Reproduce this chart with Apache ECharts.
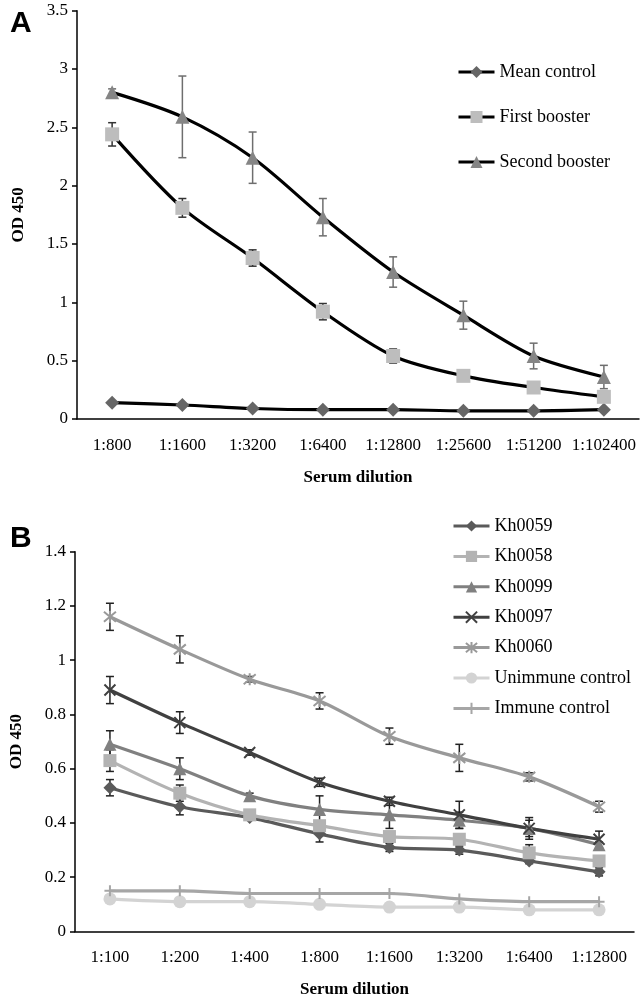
<!DOCTYPE html>
<html>
<head>
<meta charset="utf-8">
<style>
  html, body { margin: 0; padding: 0; background: #fff; }
  #chart { width: 642px; height: 1004px; }
</style>
<script src="https://cdn.jsdelivr.net/npm/echarts@6/dist/echarts.min.js"></script>
</head>
<body>
<div id="chart"></div>
<script>
// Panel A: dilutions and OD 450 values
const dilutionsA = ['1:800', '1:1600', '1:3200', '1:6400', '1:12800', '1:25600', '1:51200', '1:102400']
const meanControl = [0.14, 0.12, 0.09, 0.08, 0.08, 0.07, 0.07, 0.08]
const firstBooster = [2.44, 1.81, 1.38, 0.92, 0.54, 0.37, 0.27, 0.19]
const firstBoosterErr = [0.10, 0.08, 0.07, 0.07, 0.06, 0.02, 0.02, 0.01]
const secondBooster = [2.80, 2.59, 2.24, 1.73, 1.26, 0.89, 0.54, 0.36]
const secondBoosterErr = [0.03, 0.35, 0.22, 0.16, 0.13, 0.12, 0.11, 0.10]

// Panel B
const dilutionsB = ['1:100', '1:200', '1:400', '1:800', '1:1600', '1:3200', '1:6400', '1:12800']
const kh0059 = [0.53, 0.46, 0.42, 0.36, 0.31, 0.30, 0.26, 0.22]
const kh0059Err = [0.03, 0.03, 0.01, 0.03, 0.015, 0.015, 0.01, 0.015]
const kh0058 = [0.63, 0.51, 0.43, 0.39, 0.35, 0.34, 0.29, 0.26]
const kh0058Err = [0.04, 0.03, 0.01, 0.01, 0.01, 0.01, 0.03, 0.01]
const kh0099 = [0.69, 0.60, 0.50, 0.45, 0.43, 0.41, 0.38, 0.32]
const kh0099Err = [0.05, 0.04, 0.01, 0.05, 0.05, 0.03, 0.03, 0.01]
const kh0097 = [0.89, 0.77, 0.66, 0.55, 0.48, 0.43, 0.38, 0.34]
const kh0097Err = [0.05, 0.04, 0.01, 0.015, 0.015, 0.05, 0.04, 0.03]
const kh0060 = [1.16, 1.04, 0.93, 0.85, 0.72, 0.64, 0.57, 0.46]
const kh0060Err = [0.05, 0.05, 0.01, 0.03, 0.03, 0.05, 0.015, 0.02]
const unimmune = [0.12, 0.11, 0.11, 0.10, 0.09, 0.09, 0.08, 0.08]
const immune = [0.15, 0.15, 0.14, 0.14, 0.14, 0.12, 0.11, 0.11]

const serif = 'Liberation Serif'
const crossPath = 'path://M0,0L10,10M10,0L0,10'
const starPath = 'path://M0,0L10,10M10,0L0,10M5,-1L5,11'
const plusPath = 'path://M5,0L5,10M0,5L10,5'

const chart = echarts.init( document.getElementById( 'chart' ) )

const errorBars = ( params, api ) => {
  const x = api.value( 0 )
  const y = api.value( 1 )
  const e = api.value( 2 )
  const hi = api.coord( [x, y + e] )
  const lo = api.coord( [x, y - e] )
  const w = 4
  const style = { stroke : api.visual( 'color' ), lineWidth : 1.5, fill : null }
  return {
    type : 'group',
    children : [
      { type : 'line', shape : { x1 : hi[0], y1 : hi[1], x2 : lo[0], y2 : lo[1] }, style },
      { type : 'line', shape : { x1 : hi[0] - w, y1 : hi[1], x2 : hi[0] + w, y2 : hi[1] }, style },
      { type : 'line', shape : { x1 : lo[0] - w, y1 : lo[1], x2 : lo[0] + w, y2 : lo[1] }, style }
    ]
  }
}

const errSeries = ( vals, errs, color, idx ) => ( {
  type : 'custom',
  xAxisIndex : idx,
  yAxisIndex : idx,
  renderItem : errorBars,
  itemStyle : { color },
  z : 2,
  silent : true,
  data : vals.map( ( v, i ) => [i, v, errs[i]] )
} )

const lineSeries = ( name, data, idx, lineColor, symbol, size, markColor, stroke ) => ( {
  name,
  type : 'line',
  xAxisIndex : idx,
  yAxisIndex : idx,
  data,
  smooth : 0.3,
  symbol,
  symbolSize : size,
  showAllSymbol : true,
  z : 3,
  lineStyle : { color : lineColor, width : 3.2 },
  itemStyle : stroke
    ? { color : markColor, borderColor : markColor, borderWidth : 2 }
    : { color : markColor, borderWidth : 0 }
} )

const axisLine = { lineStyle : { color : '#000', width : 1.5 } }
const axisTick = { lineStyle : { color : '#000', width : 1.5 }, length : 5 }

const xAxis = ( data, idx ) => ( {
  type : 'category',
  gridIndex : idx,
  data,
  boundaryGap : true,
  axisLine,
  axisTick,
  axisLabel : { color : '#000', fontFamily : serif, fontSize : 17, margin : 18, interval : 0 },
  name : 'Serum dilution',
  nameLocation : 'middle',
  nameGap : 50,
  nameTextStyle : { color : '#000', fontFamily : serif, fontSize : 17, fontWeight : 'bold' },
  splitLine : { show : false }
} )

const yAxis = ( max, interval, idx ) => ( {
  type : 'value',
  gridIndex : idx,
  min : 0,
  max,
  interval,
  axisLine : { show : true, ...axisLine },
  axisTick : { show : true, ...axisTick },
  axisLabel : { color : '#000', fontFamily : serif, fontSize : 17, margin : 9 },
  name : 'OD 450',
  nameLocation : 'middle',
  nameGap : 50,
  nameTextStyle : { color : '#000', fontFamily : serif, fontSize : 17, fontWeight : 'bold' },
  splitLine : { show : false }
} )

const legendText = { color : '#000', fontFamily : serif, fontSize : 18, lineHeight : 18 }

chart.setOption( {
  backgroundColor : '#fff',
  animation : false,
  title : [
    { text : 'A', left : 5, top : 4, textStyle : { fontFamily : 'Liberation Sans', fontSize : 30, fontWeight : 'bold', color : '#000' } },
    { text : 'B', left : 5, top : 519, textStyle : { fontFamily : 'Liberation Sans', fontSize : 30, fontWeight : 'bold', color : '#000' } }
  ],
  legend : [
    {
      data : ['Mean control', 'First booster', 'Second booster'],
      orient : 'vertical',
      left : 452,
      top : 58,
      itemGap : 27,
      itemWidth : 36,
      itemHeight : 15,
      lineStyle : { width : 3 },
      textStyle : legendText
    },
    {
      data : ['Kh0059', 'Kh0058', 'Kh0099', 'Kh0097', 'Kh0060', 'Unimmune control', 'Immune control'],
      orient : 'vertical',
      left : 447,
      top : 512,
      itemGap : 12.4,
      itemWidth : 36,
      itemHeight : 14,
      lineStyle : { width : 3 },
      textStyle : legendText
    }
  ],
  grid : [
    { left : 77, right : 3, top : 10.7, bottom : 585 },
    { left : 72, right : 8, top : 551.7, bottom : 72.5 }
  ],
  xAxis : [xAxis( dilutionsA, 0 ), xAxis( dilutionsB, 1 )],
  yAxis : [yAxis( 3.5, 0.5, 0 ), yAxis( 1.4, 0.2, 1 )],
  series : [
    errSeries( firstBooster, firstBoosterErr, '#333', 0 ),
    errSeries( secondBooster, secondBoosterErr, '#6e6e6e', 0 ),
    lineSeries( 'Mean control', meanControl, 0, '#000', 'diamond', 14, '#666' ),
    lineSeries( 'First booster', firstBooster, 0, '#000', 'rect', 14, '#bdbdbd' ),
    lineSeries( 'Second booster', secondBooster, 0, '#000', 'triangle', 14, '#858585' ),

    errSeries( kh0059, kh0059Err, '#222', 1 ),
    errSeries( kh0058, kh0058Err, '#222', 1 ),
    errSeries( kh0099, kh0099Err, '#222', 1 ),
    errSeries( kh0097, kh0097Err, '#222', 1 ),
    errSeries( kh0060, kh0060Err, '#222', 1 ),
    lineSeries( 'Kh0059', kh0059, 1, '#5a5a5a', 'diamond', 13, '#5a5a5a' ),
    lineSeries( 'Kh0058', kh0058, 1, '#b3b3b3', 'rect', 13, '#b3b3b3' ),
    lineSeries( 'Kh0099', kh0099, 1, '#808080', 'triangle', 13, '#808080' ),
    lineSeries( 'Kh0097', kh0097, 1, '#404040', crossPath, 11, '#404040', true ),
    lineSeries( 'Kh0060', kh0060, 1, '#999', starPath, 12, '#999', true ),
    lineSeries( 'Unimmune control', unimmune, 1, '#d3d3d3', 'circle', 13, '#d3d3d3' ),
    lineSeries( 'Immune control', immune, 1, '#a6a6a6', plusPath, 11, '#a6a6a6', true )
  ]
} )

window.addEventListener( 'resize', () => chart.resize() )
</script>
</body>
</html>
